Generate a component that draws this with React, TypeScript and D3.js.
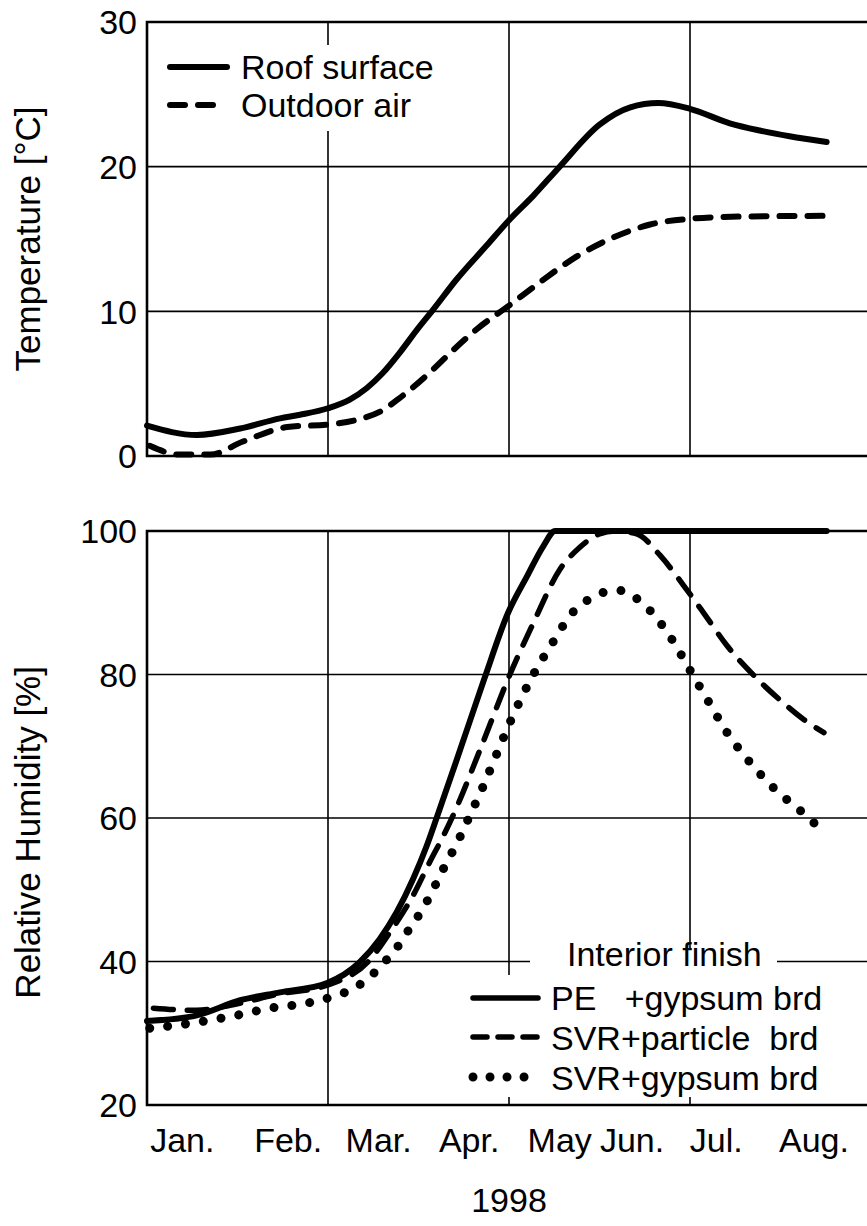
import React, { useRef, useEffect } from "react";
import * as d3 from "d3";

// x values are in months from Jan 1 (0) to Sep 1 (8)
const months = ["Jan.", "Feb.", "Mar.", "Apr.", "May", "Jun.", "Jul.", "Aug."];
const monthLabelAt = [0.39, 1.56, 2.56, 3.56, 4.56, 5.36, 6.29, 7.37];
const gridMonths = [2, 4, 6];
const tempTicks = [0, 10, 20, 30];
const tempGrid = [10, 20];
const rhTicks = [20, 40, 60, 80, 100];
const rhGrid = [40, 60, 80];

const roofSurface: [number, number][] = [
  [0, 2.1], [0.55, 1.45], [1.03, 1.9], [1.47, 2.6], [1.69, 2.85], [2.0, 3.3],
  [2.24, 3.9], [2.43, 4.7], [2.6, 5.7], [2.8, 7.2], [2.98, 8.7], [3.16, 10.1],
  [3.42, 12.2], [3.76, 14.6], [4.0, 16.3], [4.27, 18.0], [4.56, 20.0], [5.0, 22.9],
  [5.34, 24.1], [5.65, 24.4], [6.0, 24.0], [6.44, 23.0], [6.77, 22.5], [7.1, 22.1],
  [7.51, 21.7]
];

const outdoorAir: [number, number][] = [
  [0.03, 0.7], [0.36, 0.1], [0.7, 0.1], [1.06, 1.0], [1.55, 2.0], [2.05, 2.2],
  [2.35, 2.55], [2.6, 3.15], [2.78, 3.95], [3.13, 5.8], [3.38, 7.3], [3.65, 8.8],
  [4.0, 10.4], [4.34, 12.0], [4.75, 13.8], [5.15, 15.1], [5.56, 16.0], [6.0, 16.4],
  [6.55, 16.55], [7.51, 16.6]
];

const peGypsum: [number, number][] = [
  [0, 31.7], [0.55, 32.5], [1.03, 34.6], [1.47, 35.7], [1.99, 37.0], [2.35, 39.9],
  [2.57, 43.1], [2.76, 46.9], [2.94, 51.5], [3.09, 56.1], [3.2, 60], [3.46, 69.5],
  [3.73, 79.5], [3.99, 88.6], [4.2, 93.7], [4.38, 97.9], [4.51, 100], [7.51, 100]
];

const svrParticle: [number, number][] = [
  [0.07, 33.5], [0.55, 33.2], [0.92, 33.9], [1.47, 35.5], [1.99, 36.7], [2.46, 40.2],
  [2.68, 44], [2.94, 49.2], [3.13, 54], [3.27, 57.4], [3.38, 60.3], [3.68, 69.5],
  [4.01, 80], [4.27, 87.2], [4.56, 94.6], [4.78, 97.7], [5.0, 99.6], [5.17, 100],
  [5.41, 99.6], [5.67, 96.6], [5.93, 92.4], [6.15, 88.6], [6.41, 84], [6.71, 79.8],
  [6.99, 76.5], [7.26, 73.7], [7.48, 71.9]
];

const svrGypsum: [number, number][] = [
  [0.03, 30.7], [0.18, 30.9], [0.59, 31.6], [0.99, 32.5], [1.36, 33.5], [1.77, 34.2],
  [1.97, 34.8], [2.15, 35.5], [2.33, 36.6], [2.5, 38.3], [2.63, 40], [2.76, 41.9],
  [2.87, 44], [2.98, 46], [3.09, 48.3], [3.27, 52.8], [3.46, 57.4], [3.54, 59.6],
  [3.7, 64], [3.86, 68.8], [4.01, 73.3], [4.27, 80], [4.48, 84.4], [4.7, 88.6],
  [4.86, 90.3], [5.03, 91.4], [5.23, 91.7], [5.41, 90.6], [5.56, 88.9], [5.8, 84.9],
  [6.0, 80.6], [6.21, 76.1], [6.41, 71.9], [6.66, 67.8], [6.94, 64], [7.24, 60.8],
  [7.38, 59.2]
];

const W = 867;
const H = 1226;
const FONT = "'Liberation Sans', Arial, Helvetica, sans-serif";
const FS = 34;

const App = () => {
  const chartRef = useRef<SVGSVGElement>(null);

  useEffect(() => {
    const svg = d3.select(chartRef.current);
    svg.selectAll("*").remove();

    const x = d3.scaleLinear().domain([0, 8]).range([147, 871]);
    const yT = d3.scaleLinear().domain([0, 30]).range([456, 22]);
    const yR = d3.scaleLinear().domain([20, 100]).range([1105, 531]);

    const drawPanel = (y: d3.ScaleLinear<number, number>, ticks: number[], grid: number[]) => {
      const [y0, y1] = y.range();
      const g = svg.append("g");
      // gridlines
      g.selectAll(".hg")
        .data(grid)
        .enter()
        .append("line")
        .attr("x1", x(0))
        .attr("x2", x(8))
        .attr("y1", (d) => y(d))
        .attr("y2", (d) => y(d))
        .attr("stroke", "#000")
        .attr("stroke-width", 1.6);
      g.selectAll(".vg")
        .data(gridMonths)
        .enter()
        .append("line")
        .attr("x1", (d) => x(d))
        .attr("x2", (d) => x(d))
        .attr("y1", y0)
        .attr("y2", y1)
        .attr("stroke", "#000")
        .attr("stroke-width", 1.6);
      // frame
      g.append("path")
        .attr("d", `M${x(8)},${y1}H${x(0)}V${y0}H${x(8)}`)
        .attr("fill", "none")
        .attr("stroke", "#000")
        .attr("stroke-width", 2.6);
      // tick labels
      g.selectAll(".tl")
        .data(ticks)
        .enter()
        .append("text")
        .attr("x", 137)
        .attr("y", (d) => y(d))
        .attr("dy", "0.36em")
        .attr("text-anchor", "end")
        .attr("font-size", FS)
        .attr("font-family", FONT)
        .text((d) => d);
      return g;
    };

    drawPanel(yT, tempTicks, tempGrid);
    drawPanel(yR, rhTicks, rhGrid);

    // legend backgrounds (cover gridlines)
    svg.append("rect").attr("x", 155).attr("y", 45).attr("width", 290).attr("height", 86).attr("fill", "#fff");
    svg.append("rect").attr("x", 462).attr("y", 975).attr("width", 410).attr("height", 122).attr("fill", "#fff");
    svg.append("rect").attr("x", 530).attr("y", 948).attr("width", 247).attr("height", 30).attr("fill", "#fff");

    const drawLine = (
      data: [number, number][],
      y: d3.ScaleLinear<number, number>,
      width: number,
      dash: string | null
    ) => {
      const line = d3
        .line<[number, number]>()
        .x((d) => x(d[0]))
        .y((d) => y(d[1]))
        .curve(d3.curveMonotoneX);
      const p = svg
        .append("path")
        .datum(data)
        .attr("d", line)
        .attr("fill", "none")
        .attr("stroke", "#000")
        .attr("stroke-width", width)
        .attr("stroke-linecap", "round")
        .attr("stroke-linejoin", "round");
      if (dash) p.attr("stroke-dasharray", dash);
    };

    drawLine(roofSurface, yT, 6, null);
    drawLine(outdoorAir, yT, 6, "15 13");
    drawLine(peGypsum, yR, 6, null);
    drawLine(svrParticle, yR, 5.5, "20 14");
    drawLine(svrGypsum, yR, 9, "0.01 18");

    const txt = (tx: number, ty: number, s: string, anchor = "start") =>
      svg
        .append("text")
        .attr("x", tx)
        .attr("y", ty)
        .attr("text-anchor", anchor)
        .attr("font-size", FS)
        .attr("font-family", FONT)
        .style("white-space", "pre")
        .text(s);

    const sample = (x1: number, x2: number, yy: number, w: number, dash: string | null) => {
      const p = svg
        .append("path")
        .attr("d", `M${x1},${yy}H${x2}`)
        .attr("stroke", "#000")
        .attr("stroke-width", w)
        .attr("stroke-linecap", "round");
      if (dash) p.attr("stroke-dasharray", dash);
    };

    // top legend
    sample(170, 227, 67, 6, null);
    txt(241, 79, "Roof surface");
    sample(170, 216, 105, 6, "15 13");
    txt(241, 117, "Outdoor air");

    // bottom legend
    txt(567, 966, "Interior finish");
    sample(473, 538, 998, 5.5, null);
    txt(551, 1010, "PE   +gypsum brd");
    sample(473, 537, 1037, 5.5, "14 11");
    txt(551, 1050, "SVR+particle  brd");
    sample(473, 541, 1077, 9, "0.01 17");
    txt(551, 1090, "SVR+gypsum brd");

    // month labels
    svg
      .selectAll(".ml")
      .data(months)
      .enter()
      .append("text")
      .attr("x", (d, i) => x(monthLabelAt[i]))
      .attr("y", 1152)
      .attr("text-anchor", "middle")
      .attr("font-size", FS)
      .attr("font-family", FONT)
      .text((d) => d);

    txt(509, 1212, "1998", "middle");

    svg
      .append("text")
      .attr("transform", `translate(40,${(yT(0) + yT(30)) / 2}) rotate(-90)`)
      .attr("text-anchor", "middle")
      .attr("font-size", 35)
      .attr("font-family", FONT)
      .text("Temperature [°C]");
    svg
      .append("text")
      .attr("transform", `translate(40,${yR(58)}) rotate(-90)`)
      .attr("text-anchor", "middle")
      .attr("font-size", 35)
      .attr("font-family", FONT)
      .text("Relative Humidity [%]");
  }, []);

  return (
    <svg
      ref={chartRef}
      width={W}
      height={H}
      style={{ position: "absolute", left: 0, top: 0, background: "#fff" }}
    ></svg>
  );
};

export default App;
